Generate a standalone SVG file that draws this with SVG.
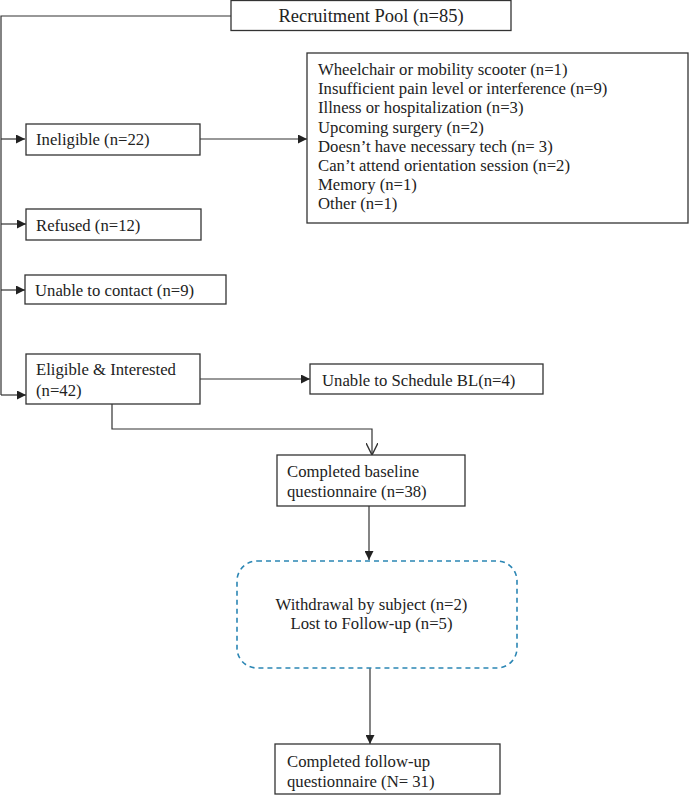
<svg xmlns="http://www.w3.org/2000/svg" width="690" height="795" viewBox="0 0 690 795">
<style>
.box{fill:#fff;stroke:#333;stroke-width:1.3}
.dash{fill:none;stroke:#2b86b4;stroke-width:1.6;stroke-dasharray:5,4}
text{font-family:"Liberation Serif","Times New Roman",serif;font-size:16.7px;fill:#222}
.big{font-size:18.5px}
.c{stroke:#333;stroke-width:1.2;fill:none}
</style>
<defs>
<marker id="a" viewBox="0 0 10 10" refX="10" refY="5" markerWidth="9" markerHeight="9" markerUnits="userSpaceOnUse" orient="auto"><path d="M0,0 L10,5 L0,10 z" fill="#222"/></marker>
<marker id="v" viewBox="0 0 10 10" refX="10" refY="5" markerWidth="12" markerHeight="12" markerUnits="userSpaceOnUse" orient="auto"><path d="M0,0 L10,5 L0,10" fill="none" stroke="#333" stroke-width="1.2"/></marker>
</defs>
<g id="connectors">
<path class="c" d="M231,16 H1 V395"/>
<path class="c" d="M1,139 H25" marker-end="url(#a)"/>
<path class="c" d="M1,224 H26" marker-end="url(#a)"/>
<path class="c" d="M1,290 H25" marker-end="url(#a)"/>
<path class="c" d="M1,395 H26" marker-end="url(#a)"/>
<path class="c" d="M200,139 H307" marker-end="url(#a)"/>
<path class="c" d="M200,379 H310" marker-end="url(#a)"/>
<path class="c" d="M112,404 V429 H372 V455" marker-end="url(#v)"/>
<path class="c" d="M369,506 V560" marker-end="url(#a)"/>
<path class="c" d="M370,668 V744" marker-end="url(#a)"/>
</g>
<g id="recruitment">
<rect class="box" x="231" y="0.5" width="280" height="30"/>
<text class="big" x="371" y="22" text-anchor="middle">Recruitment Pool (n=85)</text>
</g>
<g id="ineligible">
<rect class="box" x="26" y="124" width="174" height="31"/>
<text x="36" y="145">Ineligible (n=22)</text>
</g>
<g id="reasons">
<rect class="box" x="307" y="53" width="381" height="170"/>
<text x="318" y="75">Wheelchair or mobility scooter (n=1)</text>
<text x="318" y="94.2">Insufficient pain level or interference (n=9)</text>
<text x="318" y="113.4">Illness or hospitalization (n=3)</text>
<text x="318" y="132.6">Upcoming surgery (n=2)</text>
<text x="318" y="151.8">Doesn’t have necessary tech (n= 3)</text>
<text x="318" y="171">Can’t attend orientation session (n=2)</text>
<text x="318" y="190.2">Memory (n=1)</text>
<text x="318" y="209.4">Other (n=1)</text>
</g>
<g id="refused">
<rect class="box" x="26" y="209" width="175" height="31"/>
<text x="36" y="231">Refused (n=12)</text>
</g>
<g id="unable-contact">
<rect class="box" x="25" y="275" width="201" height="29"/>
<text x="35" y="296">Unable to contact (n=9)</text>
</g>
<g id="eligible">
<rect class="box" x="26" y="354" width="174" height="50"/>
<text x="36" y="375">Eligible &amp; Interested</text>
<text x="36" y="396">(n=42)</text>
</g>
<g id="unable-schedule">
<rect class="box" x="310" y="364" width="233" height="30"/>
<text x="322" y="386">Unable to Schedule BL(n=4)</text>
</g>
<g id="baseline">
<rect class="box" x="277" y="455" width="188" height="51"/>
<text x="287" y="477">Completed baseline</text>
<text x="287" y="497">questionnaire (n=38)</text>
</g>
<g id="withdrawal">
<rect class="dash" x="237" y="561" width="280" height="107" rx="20" ry="20"/>
<text x="371.5" y="610" text-anchor="middle">Withdrawal by subject (n=2)</text>
<text x="371.5" y="629" text-anchor="middle">Lost to Follow-up (n=5)</text>
</g>
<g id="followup">
<rect class="box" x="275" y="744" width="225" height="50"/>
<text x="287" y="767">Completed follow-up</text>
<text x="287" y="787">questionnaire (N= 31)</text>
</g>
</svg>
